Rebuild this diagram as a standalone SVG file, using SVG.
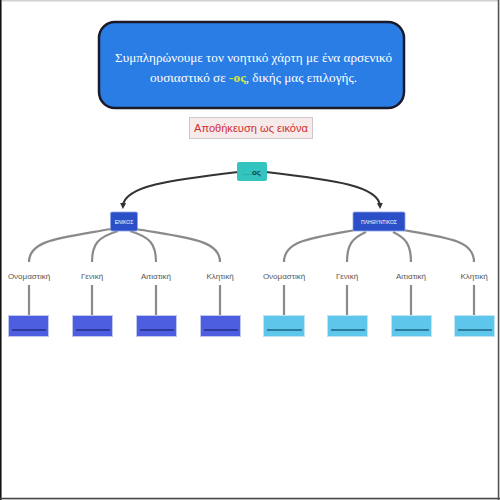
<svg xmlns="http://www.w3.org/2000/svg" width="500" height="500" viewBox="0 0 500 500">
<style>
  .lbl{font-family:"Liberation Sans",Arial,sans-serif;font-size:8px;fill:#555;text-anchor:middle}
  .nodet{font-family:"Liberation Sans",Arial,sans-serif;font-size:5px;fill:#fff;text-anchor:middle}
  .br{fill:none;stroke:#8a8a8a;stroke-width:2.2}
  .vl{stroke:#8a8a8a;stroke-width:2.2}
  .arr{fill:none;stroke:#333;stroke-width:2.2}
  .bx1{fill:#4d5fe0;stroke:#bfc6f0;stroke-width:1}
  .bx2{fill:#5ec6ea;stroke:#bfe6f4;stroke-width:1}
  .in1{stroke:#2b3a9c;stroke-width:2}
  .in2{stroke:#2b7f9c;stroke-width:2}
</style>
<defs>
  <marker id="ah" markerWidth="6" markerHeight="6" refX="3" refY="3" orient="auto" markerUnits="userSpaceOnUse">
    <path d="M0,0 L6,3 L0,6 z" fill="#333"/>
  </marker>
</defs>
<rect x="0" y="0" width="500" height="500" fill="#fff"/>
<rect x="0.75" y="0.75" width="498" height="498" fill="none" stroke="#d0d0d0" stroke-width="1.5"/>
<line x1="0.75" y1="0" x2="0.75" y2="500" stroke="#111" stroke-width="1.5"/>
<line x1="0" y1="498.5" x2="500" y2="498.5" stroke="#444" stroke-width="1.5"/>
<line x1="498.5" y1="0" x2="498.5" y2="500" stroke="#555" stroke-width="1.5"/>

<g id="title">
  <rect x="99" y="22" width="305" height="86" rx="16" fill="#2b7de6" stroke="#1a1a2a" stroke-width="2.5"/>
  <text x="253.5" y="62" font-family="'Liberation Serif','Times New Roman',serif" font-size="13.5" fill="#fff" text-anchor="middle" textLength="277" lengthAdjust="spacingAndGlyphs">Συμπληρώνουμε τον νοητικό χάρτη με ένα αρσενικό</text>
  <text x="253.5" y="82" font-family="'Liberation Serif','Times New Roman',serif" font-size="13.5" fill="#fff" text-anchor="middle" textLength="207" lengthAdjust="spacingAndGlyphs">ουσιαστικό σε <tspan fill="#d6ec3a" font-weight="bold">-ος</tspan>, δικής μας επιλογής.</text>
</g>

<g id="save-button">
  <rect x="189.5" y="117.5" width="123" height="21" fill="#f6eaea" stroke="#c9c9c9" stroke-width="1"/>
  <text x="251" y="132" font-family="'Liberation Sans',Arial,sans-serif" font-size="11" fill="#d03030" text-anchor="middle" textLength="114" lengthAdjust="spacingAndGlyphs">Αποθήκευση ως εικόνα</text>
</g>

<g id="connectors">
  <path class="arr" d="M238,172 C170,180 124,186 123,206" marker-end="url(#ah)"/>
  <path class="arr" d="M266,172 C334,180 379,186 380,206" marker-end="url(#ah)"/>
  <path class="br" d="M111,229 C60,238 29,240 29,262"/>
  <path class="br" d="M118,231 C98,237 92,244 92,262"/>
  <path class="br" d="M130,231 C150,237 156,244 156,262"/>
  <path class="br" d="M136,229 C188,238 220,240 220,262"/>
  <path class="br" d="M355,230 C310,238 284,241 284,262"/>
  <path class="br" d="M366,232 C352,238 347,245 347,262"/>
  <path class="br" d="M393,232 C406,238 411,245 411,262"/>
  <path class="br" d="M403,230 C450,238 474,241 474,262"/>
  <line class="vl" x1="29" y1="285" x2="29" y2="316"/>
  <line class="vl" x1="92" y1="285" x2="92" y2="316"/>
  <line class="vl" x1="156" y1="285" x2="156" y2="316"/>
  <line class="vl" x1="220" y1="285" x2="220" y2="316"/>
  <line class="vl" x1="284" y1="285" x2="284" y2="316"/>
  <line class="vl" x1="347" y1="285" x2="347" y2="316"/>
  <line class="vl" x1="411" y1="285" x2="411" y2="316"/>
  <line class="vl" x1="474" y1="285" x2="474" y2="316"/>
</g>

<g id="root">
  <rect x="237" y="162" width="30" height="19" rx="2" fill="#33c4bf"/>
  <text x="252" y="174.5" font-family="'Liberation Sans',Arial,sans-serif" font-size="4" fill="#1c3a4a" text-anchor="middle">........<tspan font-size="8" font-weight="bold">ος</tspan></text>
</g>

<g id="enikos">
  <rect x="110.5" y="212" width="27" height="19" rx="1.5" fill="#2b4fc6" stroke="#8ea2e6" stroke-width="0.8"/>
  <text class="nodet" x="124" y="223.5">ΕΝΙΚΟΣ</text>
</g>
<g id="plithyntikos">
  <rect x="353" y="212" width="52" height="19" rx="1.5" fill="#2b4fc6" stroke="#8ea2e6" stroke-width="0.8"/>
  <text class="nodet" x="379" y="223.5">ΠΛΗΘΥΝΤΙΚΟΣ</text>
</g>

<g id="label-e1"><text class="lbl" x="29" y="279">Ονομαστική</text></g>
<g id="label-e2"><text class="lbl" x="92" y="279">Γενική</text></g>
<g id="label-e3"><text class="lbl" x="156" y="279">Αιτιατική</text></g>
<g id="label-e4"><text class="lbl" x="220" y="279">Κλητική</text></g>
<g id="label-p1"><text class="lbl" x="284" y="279">Ονομαστική</text></g>
<g id="label-p2"><text class="lbl" x="347" y="279">Γενική</text></g>
<g id="label-p3"><text class="lbl" x="411" y="279">Αιτιατική</text></g>
<g id="label-p4"><text class="lbl" x="474" y="279">Κλητική</text></g>

<g id="box-e1"><rect class="bx1" x="8.5" y="315.5" width="40" height="21"/><line class="in1" x1="12" y1="330" x2="46" y2="330"/></g>
<g id="box-e2"><rect class="bx1" x="72.5" y="315.5" width="40" height="21"/><line class="in1" x1="76" y1="330" x2="110" y2="330"/></g>
<g id="box-e3"><rect class="bx1" x="136.5" y="315.5" width="40" height="21"/><line class="in1" x1="140" y1="330" x2="174" y2="330"/></g>
<g id="box-e4"><rect class="bx1" x="200.5" y="315.5" width="40" height="21"/><line class="in1" x1="204" y1="330" x2="238" y2="330"/></g>
<g id="box-p1"><rect class="bx2" x="263.5" y="315.5" width="41" height="21"/><line class="in2" x1="267" y1="330" x2="302" y2="330"/></g>
<g id="box-p2"><rect class="bx2" x="327.5" y="315.5" width="40" height="21"/><line class="in2" x1="331" y1="330" x2="365" y2="330"/></g>
<g id="box-p3"><rect class="bx2" x="391.5" y="315.5" width="40" height="21"/><line class="in2" x1="395" y1="330" x2="429" y2="330"/></g>
<g id="box-p4"><rect class="bx2" x="454.5" y="315.5" width="40" height="21"/><line class="in2" x1="458" y1="330" x2="492" y2="330"/></g>
</svg>
